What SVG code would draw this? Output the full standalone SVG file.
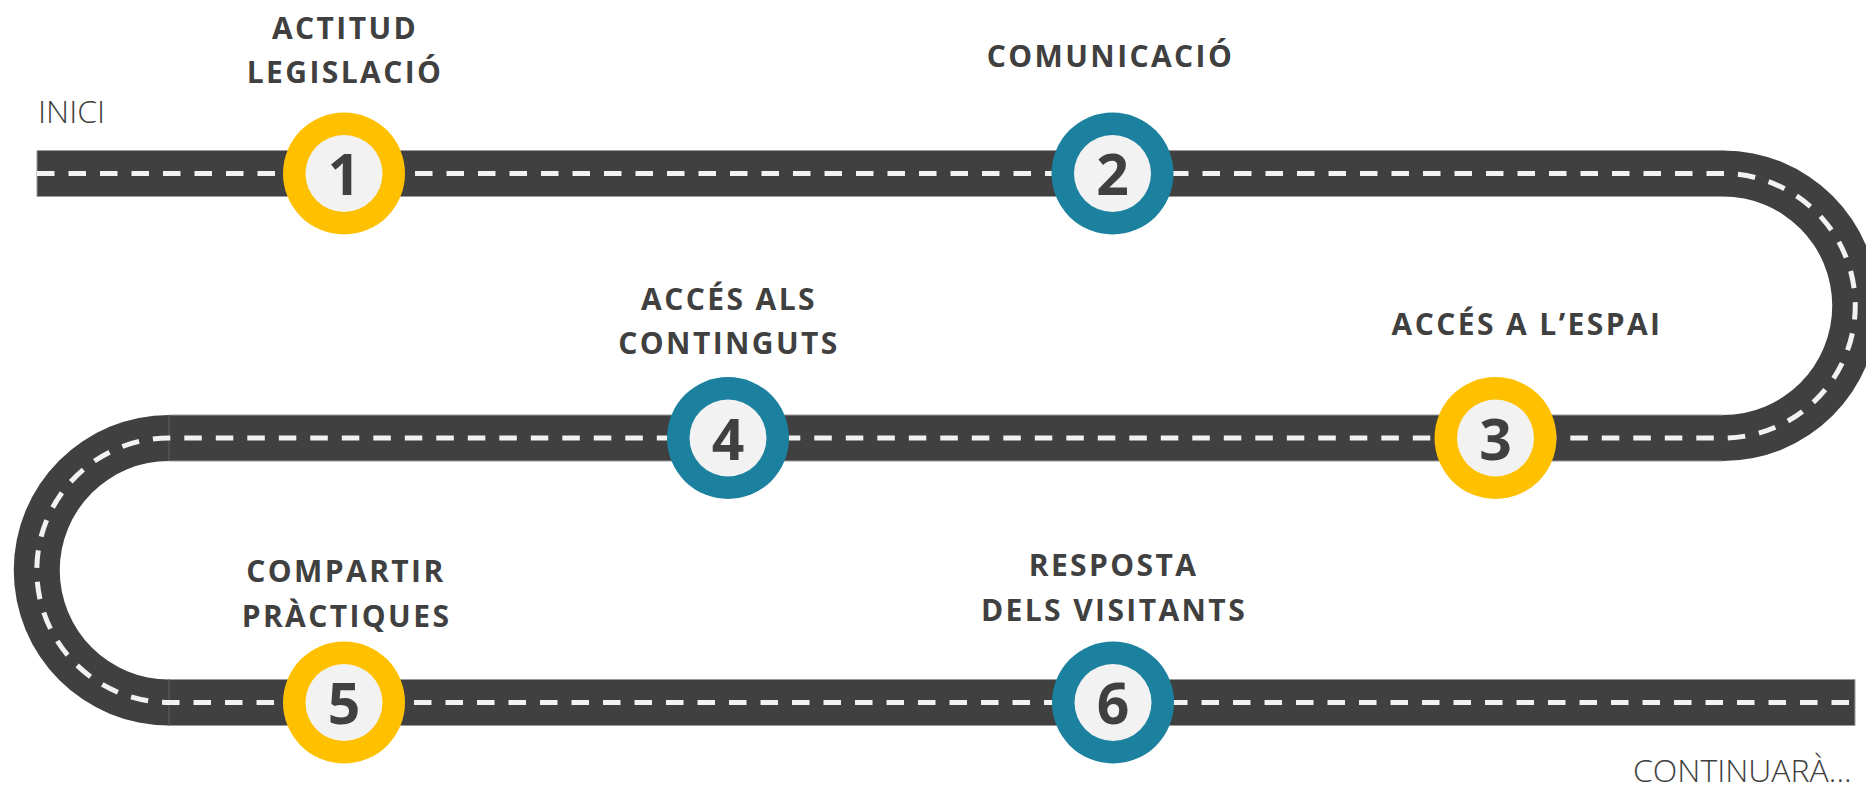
<svg xmlns="http://www.w3.org/2000/svg" width="1866" height="790" viewBox="0 0 1866 790">
  <style>
    .road { fill: #404040; }
    .edge { stroke: #9a9a9a; stroke-width: 1; fill: none; }
    .seam { stroke: #5e5e5e; stroke-width: 1; fill: none; }
    .lane { fill: none; stroke: #f2f2f2; stroke-width: 5; stroke-dasharray: 17.5 14; }
    .title { font-family: "Open Sans", "Liberation Sans", sans-serif; font-weight: 700; font-size: 30px; fill: #404040; letter-spacing: 2.4px; text-anchor: middle; }
    .light { font-family: "Open Sans", "Liberation Sans", sans-serif; font-weight: 300; font-size: 32px; fill: #404040; }
    .num { font-family: "Open Sans", "Liberation Sans", sans-serif; font-weight: 700; font-size: 57px; fill: #404040; text-anchor: middle; }
    .yellow { fill: #FFC000; }
    .blue { fill: #1B819F; }
    .inner { fill: #F2F2F2; }
  </style>

  <g id="road">
    <rect class="road" x="37" y="150.5" width="1686.5" height="46"/>
    <path class="road" d="M1723,150.5 A155.25,155.25 0 0 1 1723,461 L1723,415 A109.25,109.25 0 0 0 1723,196.5 Z"/>
    <rect class="road" x="168.5" y="415" width="1555" height="46"/>
    <path class="road" d="M169,415 A155.25,155.25 0 0 0 169,725.5 L169,679.5 A109.25,109.25 0 0 1 169,461 Z"/>
    <rect class="road" x="168.5" y="679.5" width="1686.5" height="46"/>
    <path class="edge" d="M37,150.5 H1723 M37,196.5 H1723 M37,150.5 V196.5 M169,415 H1723 M169,461 H1723 M169,679.5 H1855 M169,725.5 H1855 M1855,679.5 V725.5"/>
    <path class="seam" d="M169,415 V461 M169,679.5 V725.5"/>
    <path class="lane" d="M37,173.5 H1723 A132.25,132.25 0 0 1 1723,438 H169 A132.25,132.25 0 0 0 169,702.5 H1855"/>
  </g>

  <g id="labels">
    <text class="light" x="1633" y="782">CONTINUARÀ...</text>
    <text class="light" x="38" y="123">INICI</text>
  </g>

  <g id="step1">
    <circle class="yellow" cx="344" cy="173.5" r="61"/>
    <circle class="inner" cx="344" cy="173.5" r="38.5"/>
    <text class="num" x="344" y="195">1</text>
    <text class="title" x="345" y="39">ACTITUD</text>
    <text class="title" x="345" y="83">LEGISLACIÓ</text>
  </g>

  <g id="step2">
    <circle class="blue" cx="1112.5" cy="173.5" r="61"/>
    <circle class="inner" cx="1112.5" cy="173.5" r="38.5"/>
    <text class="num" x="1112.5" y="195">2</text>
    <text class="title" x="1110.5" y="67">COMUNICACIÓ</text>
  </g>

  <g id="step3">
    <circle class="yellow" cx="1495.5" cy="438" r="61"/>
    <circle class="inner" cx="1495.5" cy="438" r="38.5"/>
    <text class="num" x="1495.5" y="459.5">3</text>
    <text class="title" x="1527" y="335">ACCÉS A L’ESPAI</text>
  </g>

  <g id="step4">
    <circle class="blue" cx="728" cy="438" r="61"/>
    <circle class="inner" cx="728" cy="438" r="38.5"/>
    <text class="num" x="728" y="459.5">4</text>
    <text class="title" x="729" y="310">ACCÉS ALS</text>
    <text class="title" x="729" y="354">CONTINGUTS</text>
  </g>

  <g id="step5">
    <circle class="yellow" cx="344" cy="702.5" r="61"/>
    <circle class="inner" cx="344" cy="702.5" r="38.5"/>
    <text class="num" x="344" y="724">5</text>
    <text class="title" x="346" y="582">COMPARTIR</text>
    <text class="title" x="346.5" y="627">PRÀCTIQUES</text>
  </g>

  <g id="step6">
    <circle class="blue" cx="1113" cy="702.5" r="61"/>
    <circle class="inner" cx="1113" cy="702.5" r="38.5"/>
    <text class="num" x="1113" y="724">6</text>
    <text class="title" x="1113.5" y="576">RESPOSTA</text>
    <text class="title" x="1114" y="621">DELS VISITANTS</text>
  </g>
</svg>
